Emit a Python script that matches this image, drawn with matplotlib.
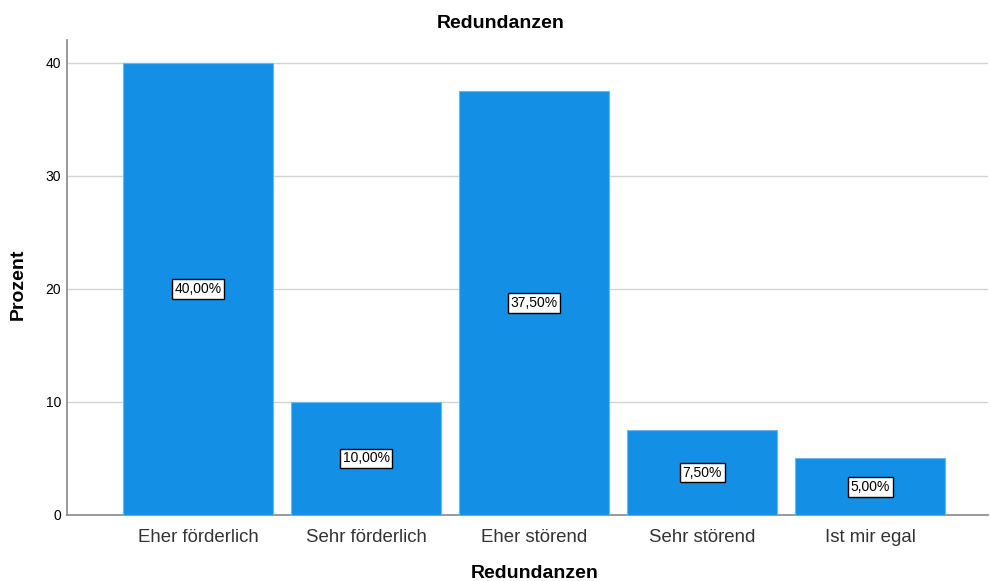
import matplotlib
matplotlib.use("Agg")
import matplotlib.pyplot as plt

plt.rcParams['font.family'] = ['Liberation Sans', 'DejaVu Sans']

categories = ["Eher förderlich", "Sehr förderlich", "Eher störend", "Sehr störend", "Ist mir egal"]
values = [40.0, 10.0, 37.5, 7.5, 5.0]
labels = ["40,00%", "10,00%", "37,50%", "7,50%", "5,00%"]
yticks = [0, 10, 20, 30, 40]

fig = plt.figure(figsize=(9.9, 5.81), dpi=100)
ax = fig.add_axes([0.0677, 0.1136, 0.930, 0.817])

x = list(range(len(categories)))
ax.bar(x, values, width=0.89, color="#1390E5", edgecolor="#6BB8F0", linewidth=0.8, zorder=3)

for xi, v, lab in zip(x, values, labels):
    ax.text(xi, v / 2, lab, ha="center", va="center", fontsize=10, color="black", zorder=4,
            bbox=dict(boxstyle="square,pad=0.2", facecolor="white", edgecolor="black", linewidth=1.0))

ax.set_xlim(-0.78, 4.70)
ax.set_ylim(0, 42.0)
ax.set_yticks(yticks)
ax.set_yticklabels([str(t) for t in yticks], fontsize=10)
ax.set_xticks(x)
ax.set_xticklabels(categories, fontsize=13.4, color="#333333")
ax.tick_params(axis="x", length=0, pad=10)
ax.tick_params(axis="y", length=0, pad=4.3)
ax.yaxis.grid(True, color="#d4d4d4", linewidth=1.0, zorder=0)
ax.set_axisbelow(True)

for s in ["top", "right"]:
    ax.spines[s].set_visible(False)
for s in ["left", "bottom"]:
    ax.spines[s].set_color("#888888")
    ax.spines[s].set_linewidth(1.2)

fig.text(501 / 990, 1 - 24 / 581, "Redundanzen", ha="center", va="center",
         fontsize=14, fontweight="bold")
fig.text(534.5 / 990, 1 - 573 / 581, "Redundanzen", ha="center", va="center",
         fontsize=14, fontweight="bold")
fig.text(18.5 / 990, 1 - 284 / 581, "Prozent", ha="center", va="center",
         rotation=90, fontsize=14, fontweight="bold")

fig.savefig("out.png", dpi=100)
